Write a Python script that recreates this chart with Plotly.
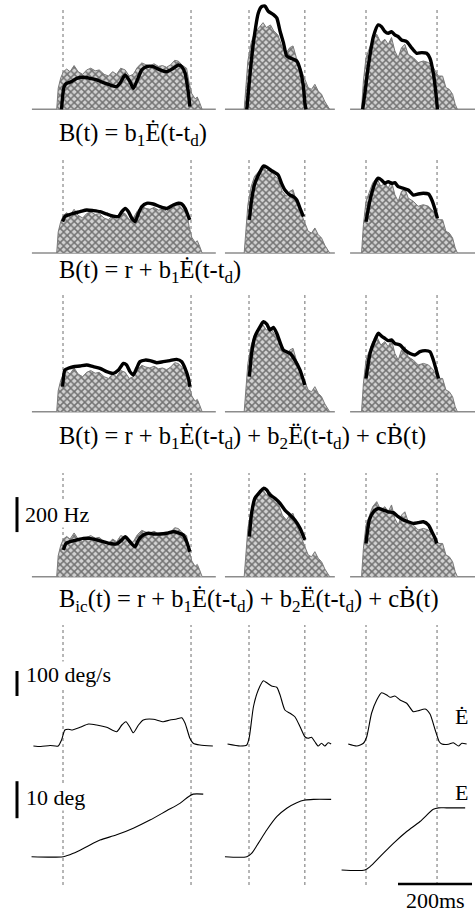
import plotly.graph_objects as go

# ---------------- DATA ----------------
# movement end time (ms after onset) for the three movements
movement_end_ms = [346, 151, 192]

# burst-neuron firing-rate histograms (Hz) for the three movements
hist_c1_t = [-17, -13, -6, 1, 10, 19, 30, 41, 53, 64, 75, 87, 98, 111, 123, 134, 145, 156, 168, 179, 190,
             201, 213, 224, 235, 246, 258, 269, 280, 291, 302, 312, 323, 334, 341, 348, 357, 363, 369, 376]
hist_c1_hz = [0, 120, 180, 215, 230, 215, 250, 215, 200, 225, 235, 220, 225, 200, 190, 215, 200, 235, 225, 190, 200,
              240, 265, 255, 250, 260, 245, 250, 240, 255, 280, 275, 250, 235, 150, 90, 60, 70, 40, 0]
hist_c2_t = [-13, -8, -3, 6, 15, 27, 38, 47, 58, 67, 78, 90, 101, 110, 119, 128, 139, 150, 160, 169, 178, 187,
             196, 205, 214, 218]
hist_c2_hz = [0, 124, 276, 381, 438, 467, 495, 467, 482, 448, 425, 352, 324, 352, 362, 295, 238, 171, 124, 114,
              143, 105, 86, 44, 10, 0]
hist_c3_t = [-12, -7, 0, 9, 18, 29, 40, 51, 60, 69, 78, 87, 96, 105, 114, 128, 141, 155, 169, 182, 196, 207,
             216, 225, 234, 241, 247]
hist_c3_hz = [0, 162, 295, 352, 400, 429, 381, 400, 371, 410, 333, 295, 352, 371, 314, 295, 267, 276, 267, 238,
              190, 190, 124, 114, 86, 29, 0]

# model fits, row r / column c
fit_r1c1_t = [-4, 3, 10, 23, 37, 55, 73, 91, 109, 127, 145, 154, 168, 181, 190, 199, 213, 226, 244, 262, 280, 298,
              312, 321, 330, 339, 343]
fit_r1c1_hz = [0, 130, 149, 158, 177, 183, 177, 168, 152, 139, 130, 149, 196, 158, 120, 158, 225, 244, 244, 225,
               215, 234, 253, 244, 206, 91, 15]
fit_r1c2_t = [-6, 3, 12, 25, 34, 43, 52, 66, 75, 84, 93, 102, 115, 129, 138, 147, 151, 154]
fit_r1c2_hz = [0, 206, 381, 549, 587, 590, 560, 541, 522, 446, 381, 305, 290, 276, 229, 130, 34, 0]
fit_r1c3_t = [-9, -3, 6, 20, 33, 42, 51, 60, 69, 78, 87, 96, 110, 124, 137, 151, 164, 173, 182, 189, 193]
fit_r1c3_hz = [0, 91, 244, 415, 482, 472, 444, 434, 444, 425, 415, 396, 387, 349, 320, 324, 320, 291, 206, 91, 0]

fit_r2c1_t = [-1, 5, 14, 28, 46, 64, 82, 100, 118, 136, 150, 159, 168, 177, 186, 195, 204, 213, 226, 244, 262,
              280, 298, 312, 321, 330, 339, 343]
fit_r2c1_hz = [179, 208, 217, 227, 236, 246, 242, 236, 223, 211, 208, 236, 255, 236, 198, 179, 227, 265, 284, 280,
               265, 255, 274, 284, 280, 255, 208, 189]
fit_r2c2_t = [1, 7, 16, 30, 39, 48, 61, 70, 79, 88, 97, 111, 120, 129, 138, 147]
fit_r2c2_hz = [189, 303, 398, 465, 497, 490, 470, 459, 446, 398, 360, 331, 322, 303, 255, 208]
fit_r2c3_t = [0, 11, 24, 33, 42, 51, 60, 69, 78, 87, 101, 114, 128, 141, 155, 169, 178, 187, 193]
fit_r2c3_hz = [179, 303, 398, 427, 417, 398, 408, 398, 402, 379, 370, 360, 331, 337, 341, 337, 303, 246, 198]

fit_r3c1_t = [-1, 5, 14, 28, 46, 64, 82, 100, 118, 136, 150, 163, 172, 181, 190, 199, 208, 222, 235, 253, 271,
              289, 307, 321, 330, 339, 343]
fit_r3c1_hz = [143, 238, 248, 257, 261, 267, 257, 248, 229, 219, 238, 276, 267, 229, 210, 248, 286, 295, 292, 280,
               286, 292, 299, 286, 248, 190, 143]
fit_r3c2_t = [1, 7, 16, 30, 39, 48, 57, 66, 75, 93, 111, 124, 138, 151]
fit_r3c2_hz = [200, 333, 429, 486, 514, 500, 467, 482, 448, 352, 333, 295, 238, 152]
fit_r3c3_t = [0, 11, 24, 33, 42, 51, 60, 69, 78, 92, 105, 119, 132, 146, 160, 173, 182, 191, 196]
fit_r3c3_hz = [190, 333, 410, 448, 432, 419, 406, 410, 390, 381, 352, 333, 324, 343, 349, 343, 295, 229, 190]

fit_r4c1_t = [1, 8, 19, 37, 55, 73, 91, 109, 127, 145, 159, 168, 177, 186, 195, 204, 217, 231, 244, 262, 280, 298,
              312, 325, 334, 343]
fit_r4c1_hz = [152, 190, 200, 210, 219, 219, 210, 200, 190, 187, 210, 229, 210, 187, 171, 210, 238, 248, 244, 244,
               248, 257, 251, 238, 200, 143]
fit_r4c2_t = [1, 7, 16, 30, 39, 48, 57, 70, 84, 97, 111, 124, 138, 151]
fit_r4c2_hz = [229, 362, 448, 486, 505, 495, 467, 448, 419, 381, 352, 324, 276, 210]
fit_r4c3_t = [0, 9, 20, 33, 47, 60, 74, 87, 101, 114, 128, 141, 155, 169, 178, 187, 191]
fit_r4c3_hz = [190, 324, 371, 390, 381, 371, 366, 343, 324, 314, 305, 309, 314, 295, 257, 219, 190]

# eye velocity (deg/s)
vel_c1_t = [-80, -60, -35, -13, -4, 5, 14, 23, 46, 69, 91, 118, 145, 159, 170, 181, 190, 204, 217, 244, 271, 289,
            307, 321, 330, 343, 352, 370, 405]
vel_c1 = [0, -2, 2, 0, 24, 64, 67, 64, 75, 88, 84, 75, 57, 84, 97, 75, 53, 84, 104, 107, 97, 104, 108, 113, 91,
          31, 11, 4, 0]
vel_c2_t = [-58, -24, -6, 1, 12, 25, 39, 48, 61, 75, 84, 97, 111, 124, 138, 151, 160, 169, 178, 187, 196, 205,
            214, 222]
vel_c2 = [8, 0, 4, 37, 157, 224, 261, 253, 240, 235, 204, 144, 131, 117, 77, 37, 31, 35, 17, 0, 11, 0, 13, 8]
vel_c3_t = [-48, -25, -7, 2, 15, 29, 42, 56, 65, 78, 92, 110, 128, 141, 160, 173, 187, 198, 205, 223, 236, 250,
            259, 272]
vel_c3 = [8, 0, 11, 37, 131, 184, 213, 204, 195, 200, 184, 171, 137, 141, 148, 128, 64, 17, 8, 7, 13, 0, 11, 8]

# eye position (deg)
pos_c1_t = [-85, 1, 28, 64, 100, 145, 190, 235, 280, 316, 339, 352, 379]
pos_c1 = [3.6, 3.6, 4.5, 6.3, 8.1, 9.5, 11.3, 13.5, 16.0, 18.0, 19.8, 20.5, 20.5]
pos_c2_t = [-65, -6, 7, 25, 48, 75, 102, 129, 151, 174, 222]
pos_c2 = [3.6, 3.6, 4.5, 7.2, 10.8, 14.4, 16.7, 18.2, 18.9, 19.1, 19.1]
pos_c3_t = [-66, -3, 11, 38, 74, 110, 146, 182, 196, 218, 268]
pos_c3 = [0, 0, 0.9, 3.6, 7.2, 10.4, 13.1, 16.4, 16.8, 16.8, 16.8]

# histogram baseline extent (ms) per column
baseline_ms = [(-84, 413), (-65, 232), (-43, 295)]

# scale bars
scale_hz = 200
scale_dps = 100
scale_deg = 10
scale_ms = 200

formulas = [
    "B(t) = b<sub>1</sub>Ė(t-t<sub>d</sub>)",
    "B(t) = r + b<sub>1</sub>Ė(t-t<sub>d</sub>)",
    "B(t) = r + b<sub>1</sub>Ė(t-t<sub>d</sub>) + b<sub>2</sub>Ë(t-t<sub>d</sub>) + cḂ(t)",
    "B<sub>ic</sub>(t) = r + b<sub>1</sub>Ė(t-t<sub>d</sub>) + b<sub>2</sub>Ë(t-t<sub>d</sub>) + cḂ(t)",
]

# ---------------- LAYOUT GEOMETRY ----------------
W, H = 475, 914
K_MS = 0.37     # px per ms
K_HZ = 0.175    # px per Hz
K_DPS = 0.25    # px per deg/s
K_DEG = 3.7     # px per deg
FONT = "Liberation Serif, Times New Roman, serif"

col_px = [(0, 218, 63), (220, 338, 249), (340, 475, 366)]       # left, right, onset
hist_rows_px = [(0, 115, 109.3), (140, 258, 253), (282, 418, 411.7), (462, 583, 576.7)]  # top, bottom, zero
vel_row_px = (620, 760, 746)
pos_row_px = (762, 895, 870)
dotted_px = [(9, 109), (157, 253), (293, 412), (473, 577), (625, 885)]
formula_y_px = [134, 272, 437, 600]


def px_y(py):
    return 1 - py / H


def x_axis(a, b, o):
    return dict(domain=[a / W, b / W], range=[(a - o) / K_MS, (b - o) / K_MS], visible=False, fixedrange=True)


def y_axis(top, bot, zero, k):
    return dict(domain=[px_y(bot), px_y(top)], range=[(zero - bot) / k, (zero - top) / k],
                visible=False, fixedrange=True, anchor="x")


fig = go.Figure()

hist_t = [hist_c1_t, hist_c2_t, hist_c3_t]
hist_hz = [hist_c1_hz, hist_c2_hz, hist_c3_hz]
fits = [
    [(fit_r1c1_t, fit_r1c1_hz), (fit_r1c2_t, fit_r1c2_hz), (fit_r1c3_t, fit_r1c3_hz)],
    [(fit_r2c1_t, fit_r2c1_hz), (fit_r2c2_t, fit_r2c2_hz), (fit_r2c3_t, fit_r2c3_hz)],
    [(fit_r3c1_t, fit_r3c1_hz), (fit_r3c2_t, fit_r3c2_hz), (fit_r3c3_t, fit_r3c3_hz)],
    [(fit_r4c1_t, fit_r4c1_hz), (fit_r4c2_t, fit_r4c2_hz), (fit_r4c3_t, fit_r4c3_hz)],
]
vels = [(vel_c1_t, vel_c1), (vel_c2_t, vel_c2), (vel_c3_t, vel_c3)]
poss = [(pos_c1_t, pos_c1), (pos_c2_t, pos_c2), (pos_c3_t, pos_c3)]


def xname(c):
    return "x" if c == 0 else f"x{c + 1}"


def yname(r):
    return "y" if r == 0 else f"y{r + 1}"


for r in range(4):
    for c in range(3):
        xa, ya = xname(c), yname(r)
        fig.add_trace(go.Scatter(x=list(baseline_ms[c]), y=[0, 0], mode="lines",
                                 line=dict(color="#8c8c8c", width=1.5), xaxis=xa, yaxis=ya,
                                 hoverinfo="skip", showlegend=False))
        fig.add_trace(go.Scatter(x=hist_t[c], y=hist_hz[c], mode="lines",
                                 line=dict(color="#7a7a7a", width=1), fill="tozeroy",
                                 fillpattern=dict(shape="x", size=5, solidity=0.5,
                                                  fgcolor="#111111", bgcolor="#d2d2d2"),
                                 xaxis=xa, yaxis=ya, hoverinfo="skip", showlegend=False))
        ft, fh = fits[r][c]
        fig.add_trace(go.Scatter(x=ft, y=fh, mode="lines", line=dict(color="black", width=3.4,
                                 shape="spline", smoothing=0.6),
                                 xaxis=xa, yaxis=ya, hoverinfo="skip", showlegend=False))

for c in range(3):
    xa = xname(c)
    fig.add_trace(go.Scatter(x=vels[c][0], y=vels[c][1], mode="lines",
                             line=dict(color="black", width=1.1, shape="spline", smoothing=0.6),
                             xaxis=xa, yaxis="y5", hoverinfo="skip", showlegend=False))
    fig.add_trace(go.Scatter(x=poss[c][0], y=poss[c][1], mode="lines",
                             line=dict(color="black", width=1.1, shape="spline", smoothing=0.8),
                             xaxis=xa, yaxis="y6", hoverinfo="skip", showlegend=False))

layout = dict(width=W, height=H, margin=dict(l=0, r=0, t=0, b=0), paper_bgcolor="white",
              plot_bgcolor="rgba(0,0,0,0)", showlegend=False)
for c, (a, b, o) in enumerate(col_px):
    key = "xaxis" if c == 0 else f"xaxis{c + 1}"
    layout[key] = x_axis(a, b, o)
for r, (top, bot, zero) in enumerate(hist_rows_px):
    key = "yaxis" if r == 0 else f"yaxis{r + 1}"
    layout[key] = y_axis(top, bot, zero, K_HZ)
layout["yaxis5"] = y_axis(*vel_row_px, K_DPS)
layout["yaxis6"] = y_axis(*pos_row_px, K_DEG)
fig.update_layout(**layout)

shapes = []
# dotted movement onset / end markers
for (top, bot) in dotted_px:
    for c in range(3):
        for t in (0, movement_end_ms[c]):
            shapes.append(dict(type="line", xref=xname(c), yref="paper", x0=t, x1=t,
                               y0=px_y(bot), y1=px_y(top), layer="below",
                               line=dict(color="#6e6e6e", width=1, dash="dot")))

# scale bars
shapes.append(dict(type="line", xref="paper", yref="y4", x0=17 / W, x1=17 / W, y0=255, y1=255 + scale_hz,
                   line=dict(color="black", width=3)))
shapes.append(dict(type="line", xref="paper", yref="y5", x0=17 / W, x1=17 / W, y0=200, y1=200 + scale_dps,
                   line=dict(color="black", width=3)))
shapes.append(dict(type="line", xref="paper", yref="y6", x0=17 / W, x1=17 / W, y0=14, y1=14 + scale_deg,
                   line=dict(color="black", width=3)))
shapes.append(dict(type="line", xref="x3", yref="paper", x0=86.5, x1=86.5 + scale_ms,
                   y0=px_y(884), y1=px_y(884), line=dict(color="black", width=2.5)))
fig.update_layout(shapes=shapes)

ann = []
for txt, py in zip(formulas, formula_y_px):
    ann.append(dict(text=txt, xref="paper", yref="paper", x=57 / W, y=px_y(py), xanchor="left",
                    yanchor="middle", showarrow=False, font=dict(family=FONT, size=24.5, color="black")))


def label(txt, px, py, anchor="left", bg="white"):
    return dict(text=txt, xref="paper", yref="paper", x=px / W, y=px_y(py), xanchor=anchor,
                yanchor="middle", showarrow=False, bgcolor=bg, borderpad=0,
                font=dict(family=FONT, size=22, color="black"))


ann.append(label(f"{scale_hz} Hz", 24, 514))
ann.append(label(f"{scale_dps} deg/s", 25, 674))
ann.append(label(f"{scale_deg} deg", 25, 797))
ann.append(label("Ė", 461, 716, anchor="center", bg="rgba(0,0,0,0)"))
ann.append(label("E", 461, 792, anchor="center", bg="rgba(0,0,0,0)"))
ann.append(label(f"{scale_ms}ms", 435, 900, anchor="center", bg="rgba(0,0,0,0)"))
fig.update_layout(annotations=ann)

fig.write_html("out.html")
